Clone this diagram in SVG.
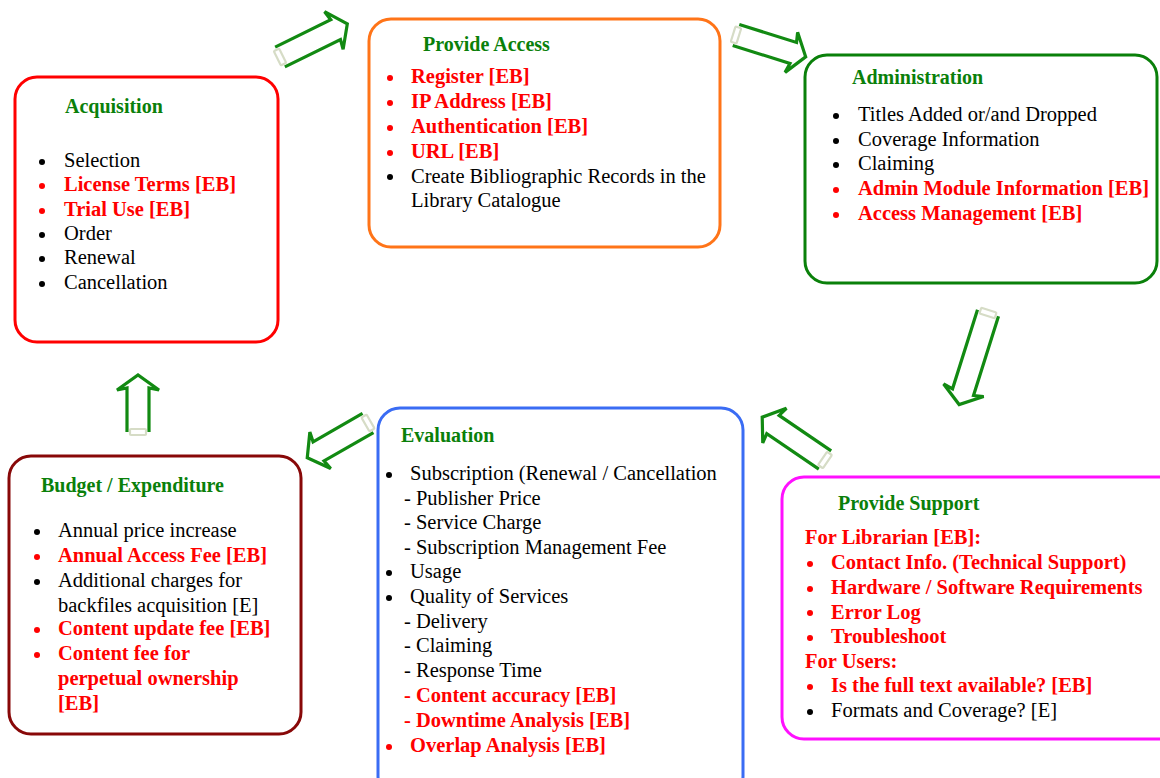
<svg xmlns="http://www.w3.org/2000/svg" width="1160" height="778" viewBox="0 0 1160 778">
<style>
text{font-family:"Liberation Serif","Times New Roman",serif;font-size:20.5px;fill:#000}
.h{font-weight:bold;fill:#0a800a;font-size:20px}
.r{font-weight:bold;fill:#ff0000}
.box{fill:#fff;stroke-width:3}
.bk{fill:#000}
.br{fill:#ff0000}
.arr{fill:none;stroke:#128a12;stroke-width:3.2;stroke-linejoin:miter}
.tail{fill:#fff;stroke:#d6dcc6;stroke-width:2.2}
</style>
<rect width="1160" height="778" fill="#fff"/>

<g id="connectors">
<g transform="translate(280,57) rotate(-26.2)"><path class="arr" d="M0,-11 L62,-11 L60,-21 L75,0 L60,21 L62,11 L0,11"/><rect class="tail" x="-3" y="-8" width="6" height="16" rx="1"/></g>
<g transform="translate(736,35) rotate(17.4)"><path class="arr" d="M0,-11 L60,-11 L58,-21 L73,0 L58,21 L60,11 L0,11"/><rect class="tail" x="-3" y="-8" width="6" height="16" rx="1"/></g>
<g transform="translate(988,313) rotate(107.5)"><path class="arr" d="M0,-11 L83,-11 L81,-21 L96,0 L81,21 L83,11 L0,11"/><rect class="tail" x="-3" y="-8" width="6" height="16" rx="1"/></g>
<g transform="translate(825,460) rotate(-145.7)"><path class="arr" d="M0,-11 L63,-11 L61,-21 L76,0 L61,21 L63,11 L0,11"/><rect class="tail" x="-3" y="-8" width="6" height="16" rx="1"/></g>
<g transform="translate(368,423) rotate(150.2)"><path class="arr" d="M0,-11 L57,-11 L55,-21 L70,0 L55,21 L57,11 L0,11"/><rect class="tail" x="-3" y="-8" width="6" height="16" rx="1"/></g>
<g transform="translate(138,432) rotate(-90)"><path class="arr" d="M0,-11 L44,-11 L42,-21 L57,0 L42,21 L44,11 L0,11"/><rect class="tail" x="-3" y="-8" width="6" height="16" rx="1"/></g>
</g>

<g id="acquisition">
<rect class="box" x="15" y="77" width="263" height="265" rx="22" stroke="#ff0000"/>
<text class="h" x="65" y="113">Acquisition</text>
<circle class="bk" cx="42" cy="162" r="3"/><text x="64" y="167">Selection</text>
<circle class="br" cx="42" cy="186" r="3"/><text class="r" x="64" y="191">License Terms [EB]</text>
<circle class="br" cx="42" cy="211" r="3"/><text class="r" x="64" y="216">Trial Use [EB]</text>
<circle class="bk" cx="42" cy="235" r="3"/><text x="64" y="240">Order</text>
<circle class="bk" cx="42" cy="259" r="3"/><text x="64" y="264">Renewal</text>
<circle class="bk" cx="42" cy="284" r="3"/><text x="64" y="289">Cancellation</text>
</g>

<g id="provide-access">
<rect class="box" x="369" y="19" width="351" height="228" rx="22" stroke="#ff7418"/>
<text class="h" x="423" y="51">Provide Access</text>
<circle class="br" cx="390" cy="78" r="3"/><text class="r" x="411" y="83">Register [EB]</text>
<circle class="br" cx="390" cy="103" r="3"/><text class="r" x="411" y="108">IP Address [EB]</text>
<circle class="br" cx="390" cy="128" r="3"/><text class="r" x="411" y="133">Authentication [EB]</text>
<circle class="br" cx="390" cy="153" r="3"/><text class="r" x="411" y="158">URL [EB]</text>
<circle class="bk" cx="390" cy="177" r="3"/><text x="411" y="182.5">Create Bibliographic Records in the</text>
<text x="411" y="207">Library Catalogue</text>
</g>

<g id="administration">
<rect class="box" x="805" y="55" width="352" height="228" rx="22" stroke="#0a800a"/>
<text class="h" x="852" y="84">Administration</text>
<circle class="bk" cx="836" cy="116" r="3"/><text x="858" y="121">Titles Added or/and Dropped</text>
<circle class="bk" cx="836" cy="141" r="3"/><text x="858" y="146">Coverage Information</text>
<circle class="bk" cx="836" cy="165" r="3"/><text x="858" y="170">Claiming</text>
<circle class="br" cx="836" cy="190" r="3"/><text class="r" x="858" y="195">Admin Module Information [EB]</text>
<circle class="br" cx="836" cy="215" r="3"/><text class="r" x="858" y="220">Access Management [EB]</text>
</g>

<g id="budget">
<rect class="box" x="9" y="456" width="292" height="278" rx="22" stroke="#880808"/>
<text class="h" x="41" y="492">Budget / Expenditure</text>
<circle class="bk" cx="37" cy="532" r="3"/><text x="58" y="537">Annual price increase</text>
<circle class="br" cx="37" cy="557" r="3"/><text class="r" x="58" y="562">Annual Access Fee [EB]</text>
<circle class="bk" cx="37" cy="582" r="3"/><text x="58" y="587">Additional charges for</text>
<text x="58" y="611.5">backfiles acquisition [E]</text>
<circle class="br" cx="37" cy="630" r="3"/><text class="r" x="58" y="635">Content update fee [EB]</text>
<circle class="br" cx="37" cy="655" r="3"/><text class="r" x="58" y="660">Content fee for</text>
<text class="r" x="58" y="685">perpetual ownership</text>
<text class="r" x="58" y="710">[EB]</text>
</g>

<g id="evaluation">
<rect class="box" x="378" y="408" width="365" height="390" rx="22" stroke="#3a6cf4"/>
<text class="h" x="401" y="442">Evaluation</text>
<circle class="bk" cx="389" cy="475" r="3"/><text x="410" y="480">Subscription (Renewal / Cancellation</text>
<text x="404" y="504.5">- Publisher Price</text>
<text x="404" y="529">- Service Charge</text>
<text x="404" y="553.5">- Subscription Management Fee</text>
<circle class="bk" cx="389" cy="573" r="3"/><text x="410" y="578">Usage</text>
<circle class="bk" cx="389" cy="598" r="3"/><text x="410" y="603">Quality of Services</text>
<text x="404" y="627.5">- Delivery</text>
<text x="404" y="652">- Claiming</text>
<text x="404" y="677">- Response Time</text>
<text class="r" x="404" y="702">- Content accuracy [EB]</text>
<text class="r" x="404" y="727">- Downtime Analysis [EB]</text>
<circle class="br" cx="389" cy="747" r="3"/><text class="r" x="410" y="752">Overlap Analysis [EB]</text>
</g>

<g id="provide-support">
<rect class="box" x="782" y="477" width="400" height="262" rx="22" stroke="#ff10ff"/>
<text class="h" x="838" y="510">Provide Support</text>
<text class="r" x="805" y="544">For Librarian [EB]:</text>
<circle class="br" cx="810" cy="564" r="3"/><text class="r" x="831" y="569">Contact Info. (Technical Support)</text>
<circle class="br" cx="810" cy="589" r="3"/><text class="r" x="831" y="594">Hardware / Software Requirements</text>
<circle class="br" cx="810" cy="613" r="3"/><text class="r" x="831" y="618.5">Error Log</text>
<circle class="br" cx="810" cy="638" r="3"/><text class="r" x="831" y="643">Troubleshoot</text>
<text class="r" x="805" y="667.5">For Users:</text>
<circle class="br" cx="810" cy="687" r="3"/><text class="r" x="831" y="692">Is the full text available? [EB]</text>
<circle class="bk" cx="810" cy="712" r="3"/><text x="831" y="717">Formats and Coverage? [E]</text>
</g>
</svg>
